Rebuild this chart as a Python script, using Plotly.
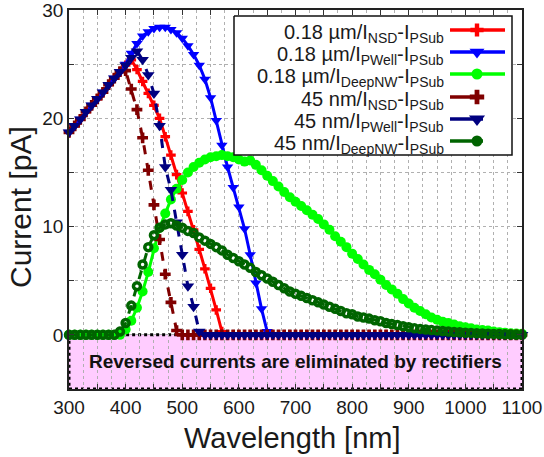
import plotly.graph_objects as go

# ---------------- data ----------------
wavelength = list(range(300, 1101, 10))  # nm

i_018_nsd = [18.7, 19.3, 19.9, 20.6, 21.2, 21.8, 22.4, 23.1, 23.7, 24.3, 24.9,
             25.4, 24.5, 23.4, 22.3, 21.2, 20.0, 18.3, 16.6, 14.8, 13.1, 11.4, 9.7, 7.9, 6.1, 4.3, 2.3, 0.3] + [0.0] * 53

i_018_pwell = [18.7, 19.3, 19.9, 20.6, 21.2, 21.8, 22.4, 23.1, 23.7, 24.3, 25.0,
               26.0, 26.9, 27.6, 28.0, 28.3, 28.4, 28.4, 28.2, 27.9, 27.4, 26.7, 25.9, 24.9, 23.6, 21.9,
               19.8, 17.5, 15.5, 13.6, 11.8, 9.8, 7.4, 4.8, 2.4, 0.3] + [0.0] * 45

i_018_deepnw = [0.0] * 10 + [
    0.5, 1.3, 2.5, 4.0, 5.8, 8.0, 9.9, 11.2, 12.5, 13.5,
    14.3, 15.0, 15.5, 15.9, 16.2, 16.4, 16.5, 16.6, 16.5, 16.4,
    16.2, 16.0, 16.1, 15.7, 15.2, 14.7, 14.2, 13.7, 13.2, 12.7,
    12.3, 11.9, 11.5, 11.1, 10.7, 10.2, 9.7, 9.1, 8.6, 8.1,
    7.5, 7.0, 6.5, 6.0, 5.6, 5.1, 4.6, 4.2, 3.8, 3.3,
    2.9, 2.5, 2.2, 1.9, 1.6, 1.4, 1.2, 1.1, 0.95, 0.8,
    0.7, 0.6, 0.5, 0.45, 0.4, 0.3, 0.25, 0.2, 0.15, 0.12, 0.1]

i_45_nsd = [18.7, 19.3, 19.9, 20.6, 21.2, 21.8, 22.4, 23.1, 23.7, 24.3,
            24.4, 22.7, 20.8, 18.2, 15.2, 12.0, 8.8, 5.6, 3.0, 0.4] + [0.0] * 61

i_45_pwell = [18.7, 19.3, 19.9, 20.6, 21.2, 21.8, 22.4, 23.1, 23.7, 24.3, 24.9, 25.6, 26.2,
              25.4, 24.0, 22.3, 19.3, 15.5, 13.4, 10.4, 7.4, 4.5, 2.6, 0.3] + [0.0] * 57

i_45_deepnw = [0.0] * 9 + [
    0.3, 1.1, 2.7, 4.5, 6.5, 8.1, 9.2, 9.9, 10.2, 10.3,
    10.1, 9.9, 9.6, 9.4, 9.0, 8.7, 8.4, 8.1, 7.8, 7.4,
    7.1, 6.8, 6.5, 6.2, 5.8, 5.5, 5.2, 4.9, 4.6, 4.3,
    4.0, 3.8, 3.6, 3.4, 3.2, 3.0, 2.8, 2.6, 2.4, 2.2,
    2.0, 1.9, 1.7, 1.6, 1.5, 1.35, 1.25, 1.1, 1.0, 0.9,
    0.8, 0.7, 0.6, 0.55, 0.5, 0.45, 0.4, 0.35, 0.3, 0.27,
    0.24, 0.2, 0.18, 0.15, 0.13, 0.11, 0.09, 0.07, 0.05, 0.03, 0.02, 0.0]

series_labels = [
    "0.18 µm/I<sub>NSD</sub>-I<sub>PSub</sub>",
    "0.18 µm/I<sub>PWell</sub>-I<sub>PSub</sub>",
    "0.18 µm/I<sub>DeepNW</sub>-I<sub>PSub</sub>",
    "45 nm/I<sub>NSD</sub>-I<sub>PSub</sub>",
    "45 nm/I<sub>PWell</sub>-I<sub>PSub</sub>",
    "45 nm/I<sub>DeepNW</sub>-I<sub>PSub</sub>",
]
series_values = [i_018_nsd, i_018_pwell, i_018_deepnw, i_45_nsd, i_45_pwell, i_45_deepnw]

x_ticks = list(range(300, 1101, 50))
x_ticktext = [str(v) if v % 100 == 0 else "" for v in x_ticks]
y_ticks = [0, 5, 10, 15, 20, 25, 30]
y_ticktext = ["0", "", "10", "", "20", "", "30"]
box_text = "Reversed currents are eliminated by rectifiers"

# ---------------- styles ----------------
colors = ["#ff0000", "#0000ff", "#00ff00", "#800000", "#000080", "#006400"]
symbols = ["cross", "triangle-down", "circle", "cross", "triangle-down", "circle-open"]
msizes = [8, 10, 10, 9, 11, 7]
dashes = ["solid", "solid", "solid", "dash", "dash", "dash"]

FONT = "Liberation Sans, Arial, sans-serif"
W, H = 544, 457
PL, PR, PT, PB = 69, 522, 10, 389  # plot area in pixels

fig = go.Figure()

for vals, name, c, s, ms, d in zip(series_values, series_labels, colors, symbols, msizes, dashes):
    marker = dict(symbol=s, size=ms, color=c)
    if s == "circle-open":
        marker["line"] = dict(color=c, width=3.5)
    else:
        marker["line"] = dict(width=0)
    fig.add_trace(go.Scatter(
        x=wavelength, y=vals, mode="lines+markers", name=name,
        line=dict(color=c, width=3, dash=d), marker=marker,
        showlegend=False, cliponaxis=False,
    ))

# ---------------- custom legend (overlay axes in pixel units) ----------------
row_y = [30, 52, 74, 97, 119, 141]
LX0, LX1, LY0, LY1 = 234, 512, 16, 155
text_right = 446
sample_x0, sample_x1_long, sample_x1_short, marker_x = 450, 505, 483, 477

fig.add_trace(go.Scatter(x=[LX0, LX1, LX1, LX0, LX0], y=[LY0, LY0, LY1, LY1, LY0],
                         mode="lines", fill="toself", fillcolor="white",
                         line=dict(color="#111", width=1.5), xaxis="x2", yaxis="y2",
                         showlegend=False, hoverinfo="skip"))

for i, (name, c, s, ms, d) in enumerate(zip(series_labels, colors, symbols, msizes, dashes)):
    x1 = sample_x1_long if d == "solid" else sample_x1_short
    fig.add_trace(go.Scatter(x=[sample_x0, x1], y=[row_y[i], row_y[i]], mode="lines",
                             line=dict(color=c, width=3.5), xaxis="x2", yaxis="y2",
                             showlegend=False, hoverinfo="skip"))
    mk = dict(symbol=s, size=ms + 3, color=c)
    if s == "circle-open":
        mk = dict(symbol="circle", size=ms + 4, color=c)
    elif s == "circle":
        mk = dict(symbol="circle", size=ms + 1, color=c)
    fig.add_trace(go.Scatter(x=[marker_x], y=[row_y[i]], mode="markers", marker=mk,
                             xaxis="x2", yaxis="y2", showlegend=False, hoverinfo="skip"))
    fig.add_annotation(x=text_right, y=row_y[i], xref="x2", yref="y2", text=name,
                       showarrow=False, xanchor="right", yanchor="middle", yshift=-3,
                       font=dict(family=FONT, size=20, color="#1a1a1a"))

# ---------------- reversed-current box ----------------
fig.add_shape(type="rect", xref="x", yref="y", x0=300, x1=1100, y0=-5, y1=0,
              layer="below", fillcolor="#ffccff", line=dict(color="black", width=3, dash="dot"))
fig.add_annotation(x=700, y=-2.5, xref="x", yref="y", text="<b>" + box_text + "</b>",
                   showarrow=False, font=dict(family=FONT, size=19, color="#111"))

# ---------------- axis titles ----------------
def px_to_paper_x(px):
    return (px - PL) / (PR - PL)

def px_to_paper_y(py):
    return (PB - py) / (PB - PT)

fig.add_annotation(x=px_to_paper_x(292), y=px_to_paper_y(438), xref="paper", yref="paper",
                   text="Wavelength [nm]", showarrow=False, xanchor="center", yanchor="middle",
                   font=dict(family=FONT, size=29, color="#1a1a1a"))
fig.add_annotation(x=px_to_paper_x(20), y=px_to_paper_y(207), xref="paper", yref="paper",
                   text="Current [pA]", showarrow=False, textangle=-90,
                   xanchor="center", yanchor="middle",
                   font=dict(family=FONT, size=30, color="#1a1a1a"))

axis_common = dict(showline=True, linecolor="#222", linewidth=1.5, mirror="allticks",
                   ticks="inside", ticklen=5, tickcolor="#333", tickwidth=1,
                   showgrid=True, gridcolor="#b0b0b0", griddash="dot", gridwidth=1,
                   zeroline=False, automargin=False, ticklabeloverflow="allow",
                   tickfont=dict(family=FONT, size=19, color="#1a1a1a"))

fig.update_layout(
    width=W, height=H,
    margin=dict(l=PL, r=W - PR, t=PT, b=H - PB),
    paper_bgcolor="white", plot_bgcolor="white",
    xaxis=dict(range=[300, 1100], tickvals=x_ticks, ticktext=x_ticktext,
               minor=dict(dtick=25, tick0=300, showgrid=True, gridcolor="#b0b0b0",
                          griddash="dot", gridwidth=1, ticks=""),
               **axis_common),
    yaxis=dict(range=[-5, 30], tickvals=y_ticks, ticktext=y_ticktext, **axis_common),
    xaxis2=dict(overlaying="x", range=[PL, PR], visible=False, fixedrange=True, automargin=False),
    yaxis2=dict(overlaying="y", range=[PB, PT], visible=False, fixedrange=True, automargin=False),
    showlegend=False,
)

fig.write_html("out.html")
